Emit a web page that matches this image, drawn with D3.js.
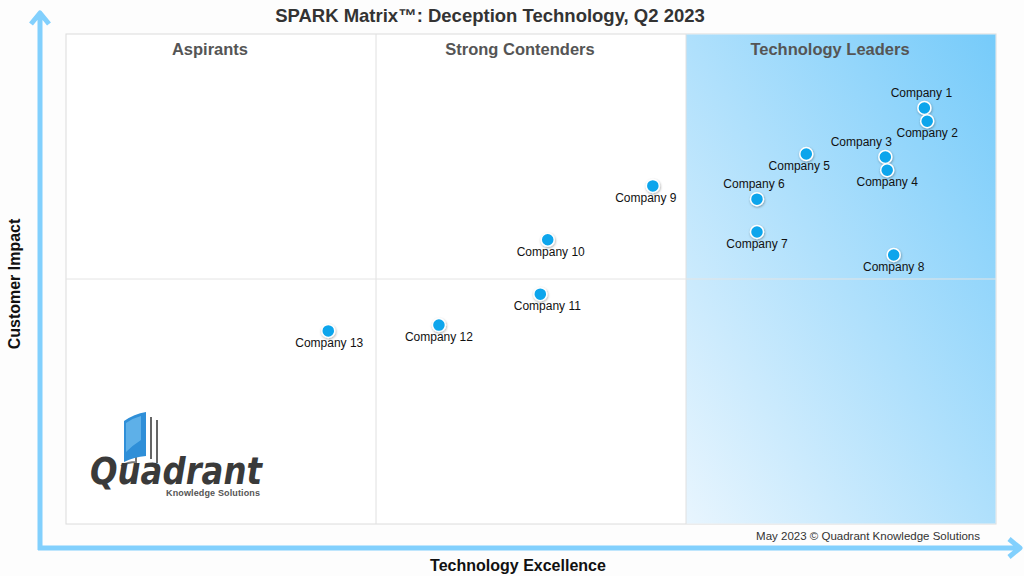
<!DOCTYPE html>
<html>
<head>
<meta charset="utf-8">
<script src="https://cdn.jsdelivr.net/npm/d3@7"></script>
<style>
  body { margin: 0; background: #fdfdfd; }
  svg { display: block; font-family: "Liberation Sans", Arial, sans-serif; }
</style>
</head>
<body>
<svg width="1024" height="576"></svg>
<script>
// chart data (0-10 scale on both axes)
var companies = ["Company 1", "Company 2", "Company 3", "Company 4", "Company 5", "Company 6", "Company 7",
    "Company 8", "Company 9", "Company 10", "Company 11", "Company 12", "Company 13"];
var techExcellence = [9.23, 9.26, 8.81, 8.83, 7.96, 7.43, 7.43, 8.90, 6.31, 5.18, 5.10, 4.01, 2.82];
var customerImpact = [8.49, 8.22, 7.49, 7.22, 7.55, 6.63, 5.96, 5.49, 6.90, 5.80, 4.69, 4.06, 3.94];
var quadrants = ["Aspirants", "Strong Contenders", "Technology Leaders"];

// label placement (above / below the dot, small horizontal nudge)
var labelSide = ["up", "down", "up", "down", "down", "up", "down", "down", "down", "down", "down", "down", "down"];
var labelNudge = [-3, 0, -24, 0, -7, -3, 0, 0, -7, 3, 7, 0, 1];

var svg = d3.select("svg")
    , pLeft = 66, pRight = 996, pTop = 34, pBottom = 524;

var x = d3.scaleLinear().domain([0, 10]).range([pLeft, pRight]);
var y = d3.scaleLinear().domain([0, 10]).range([pBottom, pTop]);

var defs = svg.append("defs");
var grad = defs.append("linearGradient").attr("id", "leaders")
    .attr("x1", 0).attr("y1", 1).attr("x2", 1).attr("y2", 0);
grad.append("stop").attr("offset", "0%").attr("stop-color", "#e8f5fe");
grad.append("stop").attr("offset", "100%").attr("stop-color", "#76cbfa");

var shadow = defs.append("filter").attr("id", "shadow").attr("x", "-50%").attr("y", "-50%")
    .attr("width", "200%").attr("height", "200%");
shadow.append("feDropShadow").attr("dx", 0.5).attr("dy", 1).attr("stdDeviation", 0.8)
    .attr("flood-color", "#000").attr("flood-opacity", 0.35);

// plot area
svg.append("rect").attr("x", pLeft).attr("y", pTop).attr("width", pRight - pLeft).attr("height", pBottom - pTop)
    .attr("fill", "#fff").attr("stroke", "#dcdcdc");
svg.append("rect").attr("x", x(20 / 3)).attr("y", pTop + 0.5).attr("width", pRight - x(20 / 3) - 0.5)
    .attr("height", pBottom - pTop - 1).attr("fill", "url(#leaders)");

// quadrant dividers
[10 / 3, 20 / 3].forEach(function (v) {
    svg.append("line").attr("x1", x(v)).attr("x2", x(v)).attr("y1", pTop).attr("y2", pBottom)
        .attr("stroke", "#e0e0e0");
});
svg.append("line").attr("x1", pLeft).attr("x2", pRight).attr("y1", y(5)).attr("y2", y(5))
    .attr("stroke", "#e4e4e4");

svg.selectAll(".quad").data(quadrants).enter().append("text")
    .attr("class", "quad")
    .attr("x", function (d, i) { return x(i * 10 / 3 + 5 / 3) - 11; })
    .attr("y", 55)
    .attr("text-anchor", "middle")
    .attr("font-size", 16.5).attr("font-weight", "bold").attr("fill", "#555")
    .text(function (d) { return d; });

// title
svg.append("text").attr("x", 490).attr("y", 22).attr("text-anchor", "middle")
    .attr("font-size", 18.5).attr("font-weight", "bold").attr("fill", "#333")
    .text("SPARK Matrix\u2122: Deception Technology, Q2 2023");

// axis arrows
var arrow = "#82d0fd";
svg.append("path").attr("d", "M40,550 L40,13 M31,24 L40,13 L49,24").attr("fill", "none")
    .attr("stroke", arrow).attr("stroke-width", 5).attr("stroke-linejoin", "round");
svg.append("path").attr("d", "M38,548 L1019,548 M1009,539 L1020,548 L1009,557").attr("fill", "none")
    .attr("stroke", arrow).attr("stroke-width", 5).attr("stroke-linejoin", "round");

svg.append("text").attr("x", 518).attr("y", 571).attr("text-anchor", "middle")
    .attr("font-size", 16).attr("font-weight", "bold").attr("fill", "#111")
    .text("Technology Excellence");
svg.append("text").attr("transform", "translate(20,284) rotate(-90)").attr("text-anchor", "middle")
    .attr("font-size", 16).attr("font-weight", "bold").attr("fill", "#111")
    .text("Customer Impact");

svg.append("text").attr("x", 980).attr("y", 540).attr("text-anchor", "end")
    .attr("font-size", 11.5).attr("fill", "#333")
    .text("May 2023 \u00a9 Quadrant Knowledge Solutions");

// logo
var logo = svg.append("g");
logo.append("path").attr("d", "M136,420 L136,462 Q128,462 121,466").attr("fill", "none")
    .attr("stroke", "#777").attr("stroke-width", 2);
logo.append("path").attr("d", "M151,417 L151,459 M157,420 L157,463").attr("fill", "none")
    .attr("stroke", "#666").attr("stroke-width", 2);
logo.append("path").attr("d", "M124,421 Q134,414 146,412 L146,456 Q134,457 124,462 Z")
    .attr("fill", "#2f8fd8");
logo.append("path").attr("d", "M126,423 Q133,418 141,416 L141,440 Q133,445 126,452 Z")
    .attr("fill", "#7fc6f3").attr("opacity", 0.6);
logo.append("text").attr("x", 90).attr("y", 484).attr("font-family", "DejaVu Sans")
    .attr("font-size", 38).attr("font-style", "italic").attr("font-weight", "bold")
    .attr("fill", "#3a3a3a").attr("textLength", 172).attr("lengthAdjust", "spacingAndGlyphs")
    .text("Quadrant");
logo.append("text").attr("x", 166).attr("y", 496).attr("font-size", 9).attr("font-weight", "bold")
    .attr("fill", "#555").attr("textLength", 94).text("Knowledge Solutions");

// companies
var pts = svg.selectAll(".co").data(companies).enter().append("g").attr("class", "co");
pts.append("circle")
    .attr("cx", function (d, i) { return x(techExcellence[i]); })
    .attr("cy", function (d, i) { return y(customerImpact[i]); })
    .attr("r", 6.5)
    .attr("fill", "#08a5ec").attr("stroke", "#fff").attr("stroke-width", 1.5)
    .attr("filter", "url(#shadow)");
pts.append("text")
    .attr("x", function (d, i) { return x(techExcellence[i]) + labelNudge[i]; })
    .attr("y", function (d, i) { return y(customerImpact[i]) + (labelSide[i] == "up" ? -11 : 16); })
    .attr("text-anchor", "middle")
    .attr("font-size", 12).attr("fill", "#111")
    .text(function (d) { return d; });
</script>
</body>
</html>
